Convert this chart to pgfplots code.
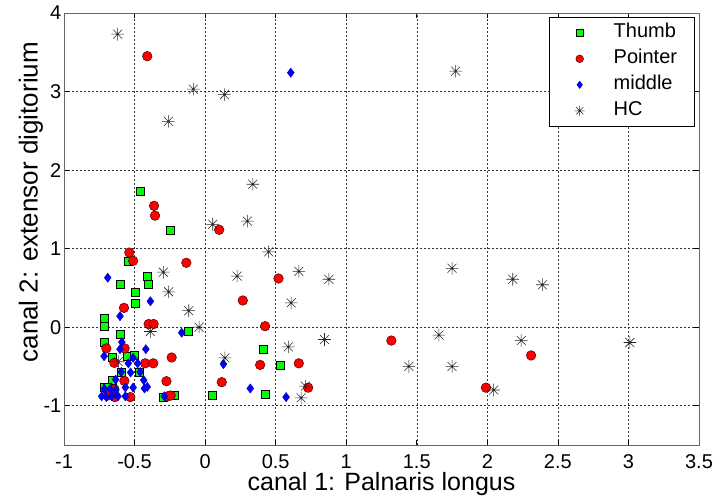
\documentclass[border=0pt]{standalone}
\usepackage{fontspec}
\setmainfont{Liberation Sans}
\usepackage{pgfplots}
\pgfplotsset{compat=1.18}
\pgfdeclareplotmark{mstar}{%
 \pgfpathmoveto{\pgfqpoint{-\pgfplotmarksize}{0pt}}\pgfpathlineto{\pgfqpoint{\pgfplotmarksize}{0pt}}%
 \pgfpathmoveto{\pgfqpoint{0pt}{-\pgfplotmarksize}}\pgfpathlineto{\pgfqpoint{0pt}{\pgfplotmarksize}}%
 \pgfpathmoveto{\pgfqpoint{-0.707\pgfplotmarksize}{-0.707\pgfplotmarksize}}\pgfpathlineto{\pgfqpoint{0.707\pgfplotmarksize}{0.707\pgfplotmarksize}}%
 \pgfpathmoveto{\pgfqpoint{-0.707\pgfplotmarksize}{0.707\pgfplotmarksize}}\pgfpathlineto{\pgfqpoint{0.707\pgfplotmarksize}{-0.707\pgfplotmarksize}}%
 \pgfusepathqstroke}
\definecolor{mgreen}{RGB}{0,255,0}
\definecolor{mred}{RGB}{255,0,0}
\definecolor{mblue}{RGB}{0,0,255}
\begin{document}
\begin{tikzpicture}
\useasboundingbox (-64pt,-54pt) rectangle (653pt,445pt);
\begin{axis}[
  at={(0pt,0pt)}, anchor=south west,
  scale only axis, width=635pt, height=432pt,
  xmin=-1, xmax=3.5, ymin=-1.5, ymax=4,
  xtick={-1,-0.5,...,3.5}, ytick={-1,0,1,2,3,4},
  xticklabels={-1,-0.5,0,0.5,1,1.5,2,2.5,3,3.5},
  yticklabels={-1,0,1,2,3,4},
  tick label style={font=\fontsize{20}{22}\selectfont},
  x tick label style={anchor=center, yshift=-16.5pt},
  y tick label style={anchor=east, inner sep=0pt, xshift=-2.5pt},
  tick align=inside, major tick length=5pt,
  tick style={black, line width=0.6pt},
  axis line style={black!60, line width=0.8pt},
  grid=major,
  major grid style={black!80, line width=0.5pt, dash pattern=on 2pt off 2pt},
  xlabel={canal 1: Palnaris longus},
  ylabel={canal 2: extensor digitorium},
  xlabel style={font=\fontsize{25}{27}\selectfont, at={(axis description cs:0.5,-0.0914)}, anchor=center},
  ylabel style={font=\fontsize{26}{28}\selectfont, at={(axis description cs:-0.052,0.562)}, anchor=center},
  legend style={at={(1,1)}, anchor=north east, xshift=-4pt, yshift=-4pt,
    font=\fontsize{20}{22}\selectfont, draw=black, line width=0.6pt,
    inner xsep=0pt, inner ysep=2.5pt, row sep=0pt, column sep=0pt,
    nodes={inner xsep=0pt, inner ysep=3pt, text height=15pt, text depth=5pt, text width=81pt, align=left}},
  legend cell align=left,
  legend image code/.code={\path[draw=none,fill=none] (-30pt,-1pt) rectangle (34pt,1pt);
     \draw[#1, mark size=0.8\pgfplotmarksize] plot coordinates {(0pt,0pt)};},
]
\addplot[only marks, mark=square*, mark size=4pt, mark options={fill=mgreen, draw=black, line width=0.5pt}] coordinates {
(-0.457,1.73) (-0.244,1.24) (-0.546,0.845) (-0.603,0.544) (-0.41,0.645) (-0.404,0.544)
(-0.494,0.44) (-0.494,0.31) (-0.716,0.115) (-0.712,0.013) (-0.116,-0.055) (-0.603,-0.09)
(-0.716,-0.195) (-0.655,-0.38) (-0.55,-0.37) (-0.50,-0.356) (-0.594,-0.57) (-0.47,-0.57)
(-0.66,-0.675) (-0.712,-0.76) (-0.69,-0.76) (-0.30,-0.896) (-0.218,-0.87) (0.052,-0.87)
(0.41,-0.28) (0.534,-0.48) (0.425,-0.86)
};
\addlegendentry{Thumb}
\addplot[only marks, mark=*, mark size=4.8pt, mark options={fill=mred, draw=black!70!red, line width=0.5pt}] coordinates {
(-0.41,3.45) (-0.362,1.545) (-0.355,1.42) (0.10,1.24) (-0.537,0.95) (-0.51,0.845)
(-0.133,0.82) (0.52,0.62) (0.267,0.34) (-0.575,0.246) (-0.40,0.04) (-0.365,0.04)
(0.425,0.013) (-0.70,-0.27) (-0.57,-0.27) (-0.237,-0.386) (-0.643,-0.455) (-0.425,-0.46)
(-0.367,-0.46) (0.39,-0.48) (0.664,-0.46) (-0.572,-0.684) (-0.274,-0.688) (0.118,-0.70)
(-0.643,-0.79) (0.73,-0.77) (-0.69,-0.87) (-0.64,-0.89) (-0.53,-0.89) (-0.265,-0.88)
(-0.244,-0.87) (1.32,-0.17) (2.31,-0.36) (1.99,-0.77)
};
\addlegendentry{Pointer}
\addplot[only marks, mark=diamond*, mark size=4.6pt, mark options={fill=mblue, draw=black!30!mblue, line width=0.4pt}] coordinates {
(0.607,3.24) (-0.69,0.63) (-0.388,0.33) (-0.603,0.14) (-0.166,-0.07) (-0.59,-0.19)
(-0.603,-0.28) (-0.42,-0.28) (-0.716,-0.37) (-0.51,-0.39) (-0.544,-0.46) (-0.478,-0.46)
(0.13,-0.47) (-0.594,-0.57) (-0.528,-0.577) (-0.46,-0.57) (-0.634,-0.667) (-0.435,-0.675)
(-0.43,-0.78) (-0.41,-0.76) (-0.51,-0.768) (-0.565,-0.768) (-0.714,-0.786) (-0.674,-0.786)
(-0.633,-0.80) (-0.733,-0.88) (-0.70,-0.89) (-0.66,-0.88) (-0.617,-0.88) (-0.565,-0.88)
(-0.289,-0.88) (0.32,-0.78) (0.574,-0.89)
};
\addlegendentry{middle}
\addplot[only marks, mark=mstar, mark size=6.3pt, mark options={draw=black!85, line width=0.55pt}] coordinates {
(-0.62,3.73) (-0.083,3.03) (0.137,2.96) (-0.26,2.62) (1.775,3.26) (0.338,1.82)
(0.054,1.31) (0.30,1.35) (0.45,0.96) (0.227,0.65) (0.664,0.71) (0.877,0.61)
(0.61,0.31) (-0.296,0.70) (-0.258,0.45) (-0.116,0.21) (-0.043,0.0) (-0.388,-0.055)
(0.59,-0.25) (0.846,-0.157) (0.14,-0.39) (-0.615,-0.44) (0.71,-0.75) (0.68,-0.90)
(1.75,0.75) (2.18,0.61) (2.39,0.54) (1.657,-0.10) (1.444,-0.50) (1.75,-0.50)
(2.24,-0.17) (3.01,-0.195) (2.045,-0.80)
};
\addlegendentry{HC}
\end{axis}
\end{tikzpicture}
\end{document}
